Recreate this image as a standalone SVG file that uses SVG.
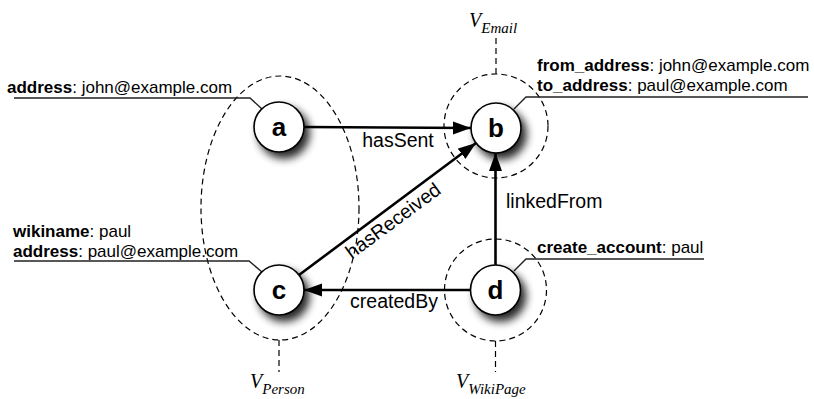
<svg xmlns="http://www.w3.org/2000/svg" width="814" height="399" viewBox="0 0 814 399">
<style>
.grp{fill:none;stroke:#000;stroke-width:1.2;stroke-dasharray:6 4}
.edge{fill:none;stroke:#000;stroke-width:2.6}
.ann{fill:none;stroke:#222;stroke-width:1.4}
.node{fill:#fff;stroke:#000;stroke-width:1.6}
.nl{font-family:"Liberation Sans",Arial,sans-serif;font-weight:bold;font-size:26px;text-anchor:middle}
.at{font-family:"Liberation Sans",Arial,sans-serif;font-size:17px;fill:#000}
.at tspan.k{font-weight:bold}
.el{font-family:"Liberation Sans",Arial,sans-serif;font-size:19.5px;fill:#000}
.v{font-family:"Liberation Serif","Times New Roman",serif;font-style:italic;font-size:20px}
.vs{font-size:15px}
</style>
<defs>
<marker id="arr" markerUnits="userSpaceOnUse" markerWidth="19" markerHeight="14" refX="18" refY="6.5" orient="auto">
<path d="M0,0 L18,6.5 L0,13 z" fill="#000"/>
</marker>
<filter id="sh" x="-50%" y="-50%" width="200%" height="200%">
<feGaussianBlur in="SourceAlpha" stdDeviation="4.5"/>
<feOffset dx="5" dy="6" result="b"/>
<feComponentTransfer><feFuncA type="linear" slope="0.85"/></feComponentTransfer>
<feMerge><feMergeNode/><feMergeNode in="SourceGraphic"/></feMerge>
</filter>
</defs>

<g id="groups">
<g id="VPerson">
<ellipse class="grp" cx="280" cy="208" rx="79" ry="132"/>
<line class="grp" x1="279" y1="340" x2="279" y2="372"/>
<text class="v" x="250" y="388">V<tspan class="vs" dy="6">Person</tspan></text>
</g>
<g id="VEmail">
<circle class="grp" cx="496" cy="126" r="52"/>
<line class="grp" x1="496" y1="74" x2="496" y2="38"/>
<text class="v" x="469" y="27">V<tspan class="vs" dy="6">Email</tspan></text>
</g>
<g id="VWikiPage">
<circle class="grp" cx="495.5" cy="290" r="51"/>
<line class="grp" x1="495.5" y1="341" x2="495.5" y2="372"/>
<text class="v" x="456" y="388">V<tspan class="vs" dy="6">WikiPage</tspan></text>
</g>
</g>

<g id="annotations">
<polyline class="ann" points="14,98 250,98 262,109"/>
<text class="at" x="7" y="93"><tspan class="k">address</tspan>: john@example.com</text>
<polyline class="ann" points="808,97 526,97 514,109"/>
<text class="at" x="537" y="71"><tspan class="k">from_address</tspan>: john@example.com</text>
<text class="at" x="537" y="91"><tspan class="k">to_address</tspan>: paul@example.com</text>
<polyline class="ann" points="14,261 249,261 262,272"/>
<text class="at" x="13" y="237"><tspan class="k">wikiname</tspan>: paul</text>
<text class="at" x="13" y="257"><tspan class="k">address</tspan>: paul@example.com</text>
<polyline class="ann" points="704,259 526,259 514,271"/>
<text class="at" x="537" y="253"><tspan class="k">create_account</tspan>: paul</text>
</g>

<g id="connectors">
<line class="edge" x1="304" y1="127" x2="471" y2="128" marker-end="url(#arr)"/>
<text class="el" x="398" y="147" text-anchor="middle">hasSent</text>
<line class="edge" x1="299" y1="275" x2="476" y2="143" marker-end="url(#arr)"/>
<text class="el" text-anchor="middle" transform="translate(397,226) rotate(-36.5)">hasReceived</text>
<line class="edge" x1="495.5" y1="265" x2="495.5" y2="153" marker-end="url(#arr)"/>
<text class="el" x="506" y="208">linkedFrom</text>
<line class="edge" x1="470" y1="290" x2="304" y2="290" marker-end="url(#arr)"/>
<text class="el" x="394" y="308" text-anchor="middle">createdBy</text>
</g>

<g id="node-a"><circle class="node" cx="279" cy="127" r="25" filter="url(#sh)"/><text class="nl" x="279" y="136">a</text></g>
<g id="node-b"><circle class="node" cx="496" cy="128" r="25" filter="url(#sh)"/><text class="nl" x="496" y="137">b</text></g>
<g id="node-c"><circle class="node" cx="279" cy="290" r="25" filter="url(#sh)"/><text class="nl" x="279" y="299">c</text></g>
<g id="node-d"><circle class="node" cx="495.5" cy="290" r="25" filter="url(#sh)"/><text class="nl" x="495.5" y="299">d</text></g>
</svg>
